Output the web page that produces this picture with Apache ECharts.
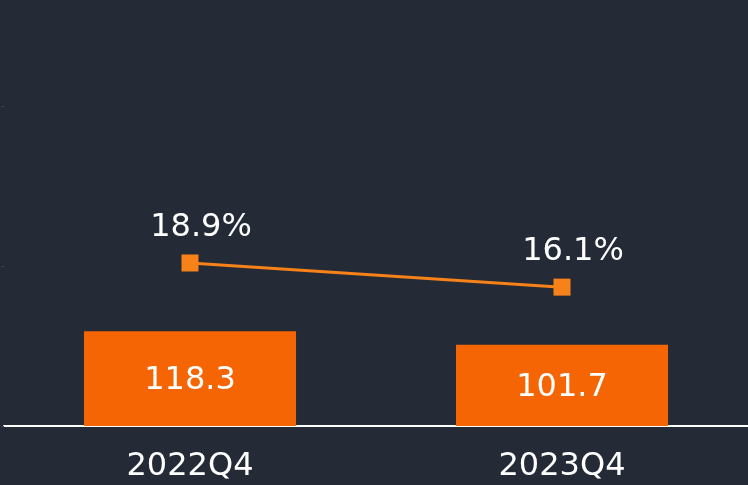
<!DOCTYPE html>
<html>
<head>
<meta charset="utf-8">
<script src="https://cdn.jsdelivr.net/npm/echarts@6/dist/echarts.min.js"></script>
<style>
  html, body { margin: 0; padding: 0; background: #242b36; }
  #chart { width: 748px; height: 485px; }
</style>
</head>
<body>
<div id="chart"></div>
<script>
  var categories = ['2022Q4', '2023Q4'];
  var barValues = [118.3, 101.7];
  var rateValues = [18.9, 16.1];

  var chart = echarts.init(document.getElementById('chart'));
  var option = {
    backgroundColor: '#242b36',
    textStyle: { fontFamily: 'DejaVu Sans' },
    grid: { left: 4, right: -2, top: 106, bottom: 59 },
    xAxis: {
      type: 'category',
      data: categories,
      axisLine: { lineStyle: { color: '#ffffff', width: 2 } },
      axisTick: { show: false },
      axisLabel: { color: '#ffffff', fontSize: 32, margin: 25 }
    },
    yAxis: [{
      type: 'value',
      min: 0,
      max: 400,
      interval: 200,
      splitLine: { show: false },
      axisLine: { show: false },
      axisLabel: { show: false },
      axisTick: { show: true, length: 3, lineStyle: { color: '#3a4352' } }
    }, {
      type: 'value',
      min: 0,
      max: 37.1,
      show: false
    }],
    series: [{
      // 柱
      type: 'bar',
      data: barValues,
      barWidth: '57%',
      itemStyle: { color: '#f66503' },
      label: { show: true, position: 'inside', color: '#ffffff', fontSize: 32, offset: [0, 2] }
    }, {
      // 折线
      type: 'line',
      yAxisIndex: 1,
      data: rateValues,
      symbol: 'rect',
      symbolSize: 17,
      lineStyle: { color: '#f7821a', width: 3 },
      itemStyle: { color: '#f7821a' },
      label: {
        show: true,
        position: 'top',
        distance: 11,
        offset: [11, 0],
        color: '#ffffff',
        fontSize: 32,
        formatter: function (p) { return p.value.toFixed(1) + '%'; }
      }
    }]
  };
  chart.setOption(option);
</script>
</body>
</html>
